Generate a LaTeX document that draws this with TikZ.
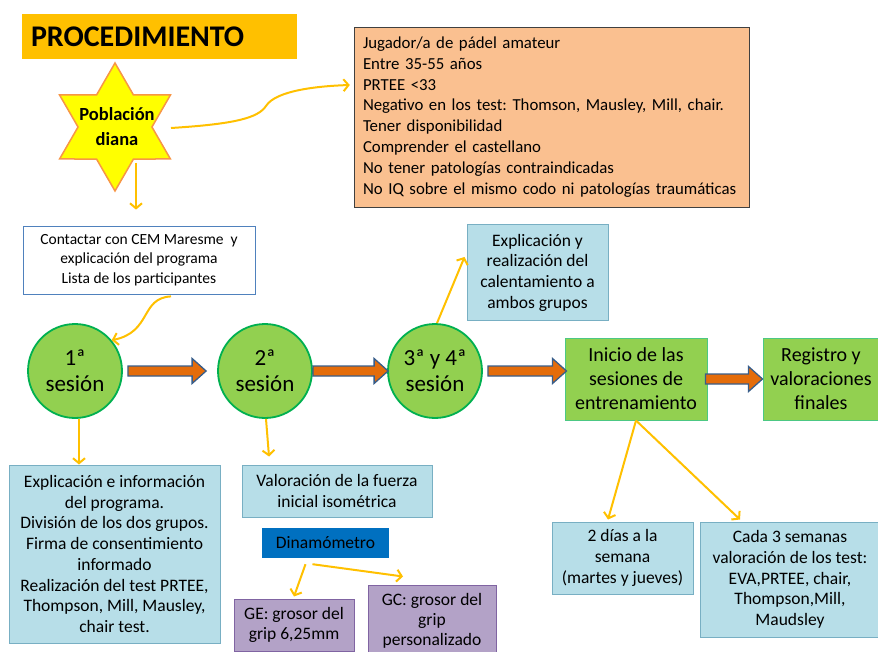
\documentclass[tikz,border=0pt]{standalone}
\usepackage{fontspec}
\setmainfont{Carlito}
\usepackage{tikz}
\usetikzlibrary{shapes, arrows.meta, positioning, calc}
\frenchspacing
\definecolor{procAmarillo}{HTML}{FFC000}
\definecolor{procEstrella}{HTML}{FFFF00}
\definecolor{procEstrellaBorde}{HTML}{F79646}
\definecolor{procNaranja}{HTML}{FAC090}
\definecolor{procAzulBorde}{HTML}{4F81BD}
\definecolor{procCeleste}{HTML}{B7DEE8}
\definecolor{procCelesteBorde}{HTML}{78AFC3}
\definecolor{procVerde}{HTML}{92D050}
\definecolor{procVerdeBorde}{HTML}{00B050}
\definecolor{procFlecha}{HTML}{E46C0A}
\definecolor{procFlechaBorde}{HTML}{385D8A}
\definecolor{procAzul}{HTML}{0070C0}
\definecolor{procMorado}{HTML}{B3A2C7}
\definecolor{procMoradoBorde}{HTML}{8064A2}

\begin{document}
\begin{tikzpicture}[
    x=1pt, y=-1pt,
    titulo/.style={rectangle, fill=procAmarillo, minimum width=275pt, minimum height=45pt, text width=257pt, align=left, font=\fontsize{30}{34}\selectfont\bfseries},
    estrella/.style={star, star points=6, star point ratio=1.732, minimum size=128pt, inner sep=0pt, fill=procEstrella, draw=procEstrellaBorde, line width=1.5pt},
    criterio/.style={rectangle, draw=black!75, fill=procNaranja, minimum width=395pt, minimum height=180pt, text width=377pt, align=left, font=\fontsize{16.8}{20.8}\selectfont},
    nota/.style={rectangle, draw=procAzulBorde, fill=white, line width=0.8pt, align=center, font=\fontsize{15.5}{19.5}\selectfont},
    sesion/.style={circle, draw=procVerdeBorde, fill=procVerde, line width=1.8pt, minimum size=94pt, inner sep=0pt, align=center, font=\fontsize{23}{26}\selectfont},
    etapa/.style={rectangle, draw=procVerdeBorde!70, fill=procVerde, line width=1pt, minimum width=142pt, minimum height=82pt, align=center, font=\fontsize{20}{24}\selectfont},
    info/.style={rectangle, draw=procCelesteBorde, fill=procCeleste, line width=1pt, align=center, font=\fontsize{17.5}{20.7}\selectfont},
    grupo/.style={rectangle, draw=procMoradoBorde, fill=procMorado, line width=1pt, align=center, font=\fontsize{17.5}{20}\selectfont},
    flecha/.style={draw=procFlechaBorde, fill=procFlecha, line width=1.3pt, line join=miter,
        to path={let \p1=(\tikztostart), \p2=(\tikztotarget) in
            (\x1,\y1+5pt) -- (\x2-14pt,\y1+5pt) -- (\x2-14pt,\y1+12.5pt) -- (\x2,\y1)
            -- (\x2-14pt,\y1-12.5pt) -- (\x2-14pt,\y1-5pt) -- (\x1,\y1-5pt) -- cycle}},
    flechaAm/.style={-{Straight Barb[length=5pt, width=12pt, line width=2pt]}, procAmarillo, line width=2pt}
]
    \useasboundingbox (0,0) rectangle (878,652);

    % Nodes
    \node[titulo] (procedimiento) at (159.5,36.5) {PROCEDIMIENTO};
    \node[estrella] (poblacion) at (115,127) {};
    \node[align=center, font=\fontsize{18.5}{25}\selectfont\bfseries] (poblacionTexto) at ([xshift=2pt]poblacion.center) {Población\\diana};
    \node[criterio] (criterios) at (551.5,117) {Jugador/a de pádel amateur\\Entre 35-55 años\\PRTEE <33\\Negativo en los test: Thomson, Mausley, Mill, chair.\\Tener disponibilidad\\Comprender el castellano\\No tener patologías contraindicadas\\No IQ sobre el mismo codo ni patologías traumáticas};
    \node[nota, minimum width=232pt, minimum height=68pt] (contacto) at (139,260) {Contactar con CEM Maresme\ \ y\\explicación del programa\\Lista de los participantes};

    \node[sesion] (s1) at (75,371) {1ª\\sesión};
    \node[sesion] (s2) at (265,371) {2ª\\sesión};
    \node[sesion] (s3) at (435,371) {3ª y 4ª\\sesión};
    \node[etapa] (inicio) at (636,379) {Inicio de las\\sesiones de\\entrenamiento};
    \node[etapa, minimum width=116pt] (registro) at (821,379) {Registro y\\valoraciones\\finales};

    \node[info, minimum width=141pt, minimum height=95pt] (calentamiento) at (537.5,272.5) {Explicación y\\realización del\\calentamiento a\\ambos grupos};
    \node[info, minimum width=211pt, minimum height=178pt] (explicacion) at (114.5,554) {Explicación e información\\del programa.\\División de los dos grupos.\\Firma de consentimiento\\informado\\Realización del test PRTEE,\\Thompson, Mill, Mausley,\\chair test.};
    \node[info, minimum width=190pt, minimum height=52pt] (valoracion) at (337,491) {Valoración de la fuerza\\inicial isométrica};
    \node[rectangle, fill=procAzul, minimum width=127pt, minimum height=30pt, font=\fontsize{17.5}{20}\selectfont] (dinamometro) at (325.5,543) {Dinamómetro};
    \node[grupo, minimum width=120pt, minimum height=52pt] (ge) at (294,625) {GE: grosor del\\grip 6,25mm};
    \node[grupo, minimum width=128pt, minimum height=72pt] (gc) at (432,621) {GC: grosor del\\grip\\personalizado};
    \node[info, minimum width=141pt, minimum height=72pt] (dias) at (622.5,558) {2 días a la\\semana\\(martes y jueves)};
    \node[info, minimum width=180pt, minimum height=115pt] (cada) at (790,579.5) {Cada 3 semanas\\valoración de los test:\\EVA,PRTEE, chair,\\Thompson,Mill,\\Maudsley};

    % Connections
    \draw[flechaAm] ([xshift=56pt,yshift=-1pt]poblacion.center) .. controls (235,124) and (258,118) .. (266,106) .. controls (276,90) and (320,86) .. ([xshift=-4pt,yshift=32pt]criterios.west);
    \draw[flechaAm] ([xshift=21pt,yshift=-36pt]poblacion.center) -- ([xshift=-3pt,yshift=16pt]contacto.north);
    \draw[flechaAm] ([xshift=32pt,yshift=-2pt]contacto.south) .. controls (140,298) and (152,332) .. (s1.40);
    \draw[flechaAm] ([xshift=2pt]s3.north) -- ([xshift=-2pt,yshift=15.5pt]calentamiento.west);
    \draw[flechaAm] ([xshift=4pt]s1.south) -- ([xshift=4pt]s1.south |- explicacion.north);
    \draw[flechaAm] ([xshift=1pt]s2.south) -- ([xshift=-68pt,yshift=8pt]valoracion.north);
    \draw[flechaAm] ([xshift=-20pt,yshift=-6pt]dinamometro.south) -- ([yshift=2pt]ge.north);
    \draw[flechaAm] ([xshift=-13pt,yshift=-6pt]dinamometro.south) -- ([xshift=-29pt,yshift=8pt]gc.north);
    \draw[flechaAm] (inicio.south) -- ([xshift=-14.5pt,yshift=2pt]dias.north);
    \draw[flechaAm] (inicio.south) -- ([xshift=-50pt,yshift=2pt]cada.north);

    \draw[flecha] ([xshift=5pt]s1.east) to ([xshift=-11pt]s2.west);
    \draw[flecha] (s2.east) to ([xshift=1pt]s3.west);
    \draw[flecha] ([xshift=5pt]s3.east) to ([xshift=2pt]inicio.west);
    \draw[flecha] ([xshift=-2pt]inicio.east) to (registro.west);

\end{tikzpicture}
\end{document}
